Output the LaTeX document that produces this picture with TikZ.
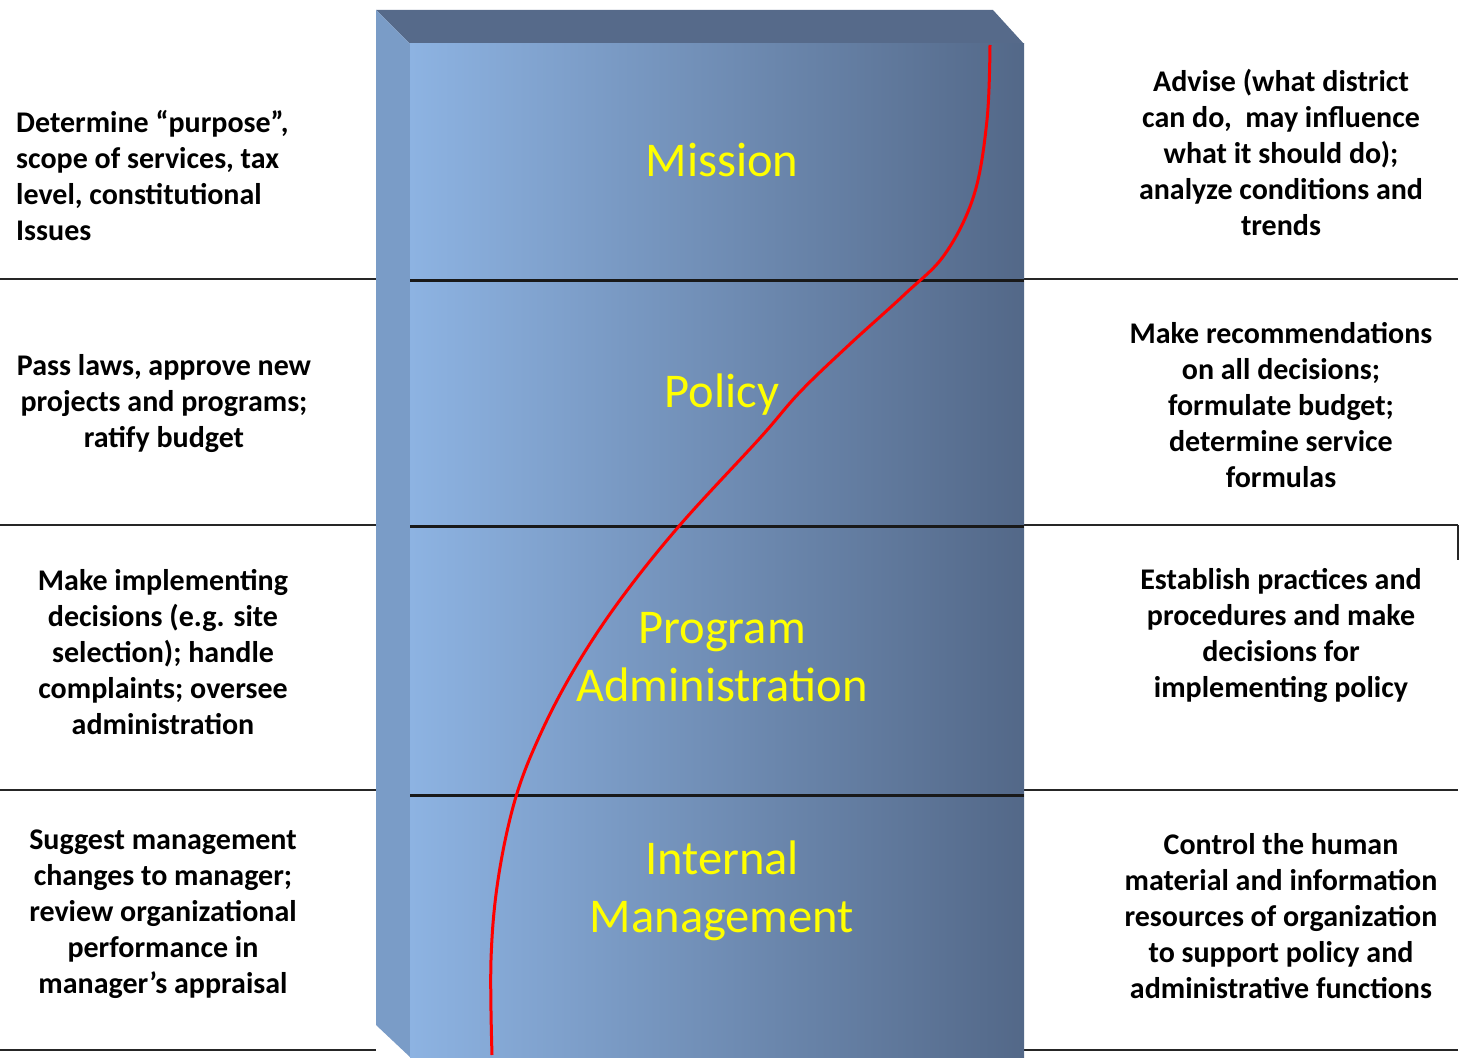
\documentclass[tikz,border=0pt]{standalone}
\usepackage{fontspec}
\setmainfont{Carlito}
\usepackage{tikz}
\definecolor{colLight}{RGB}{141,179,226}
\definecolor{colMid}{RGB}{120,155,198}
\definecolor{colDark}{RGB}{83,104,136}
\definecolor{sideFace}{RGB}{122,156,199}
\definecolor{topFace}{RGB}{86,106,138}
\definecolor{lvlYellow}{RGB}{255,255,0}
\tikzset{
  sidetext/.style={align=center, inner sep=0pt, font=\fontsize{30}{36}\selectfont\bfseries},
  lvltext/.style={align=center, inner sep=0pt, text=lvlYellow, font=\fontsize{48.5}{58}\selectfont},
  divider/.style={line width=1.6pt, color=black!85},
  inner divider/.style={line width=3pt, color=black!90}
}

\begin{document}
\begin{tikzpicture}[x=1pt, y=-1pt]
		%%%%% START %%%%%
		\useasboundingbox (0, 0) rectangle (1460, 1059);
		
		% row lines outside the column
		\foreach \yy in {279, 525, 790, 1050} {
			\draw[divider] (0, \yy) -- (376, \yy);
			\draw[divider] (1024, \yy) -- (1458, \yy);
		}
		\draw[divider] (1458, 525) -- (1458, 560);
		
		% the column
		\fill[topFace] (376, 10) -- (993, 10) -- (1024, 44) -- (410, 44) -- cycle;
		\fill[sideFace] (376, 10) -- (410, 44) -- (410, 1057) -- (376, 1025) -- cycle;
		\shade[left color=colLight, middle color=colMid, right color=colDark] (410, 44) rectangle (1024, 1057);
		
		\foreach \yy in {281, 526, 795} {
			\draw[inner divider] (410, \yy) -- (1024, \yy);
		}
		
		% the curve
		\draw[red, line width=3pt] plot[smooth, tension=0.6] coordinates {(990, 45) (987, 120) (974, 195) (945, 254) (905, 294) (850, 344) (800, 392) (760, 438) (680, 525) (620, 600) (575, 668) (540, 735) (515, 800) (498, 880) (491, 960) (492, 1055)};
		
		% levels
		\node[lvltext] (mission) at (722, 160) {Mission};
		\node[lvltext] (policy) at (722, 395) {Policy};
		\node[lvltext] (program) at (722, 657) {Program\\Administration};
		\node[lvltext] (internal) at (722, 891) {Internal\\Management};
		
		% left column
		\node[sidetext, align=left, anchor=west] (missionL) at (16, 176) {Determine “purpose”,\\scope of services, tax\\level, constitutional\\Issues};
		\node[sidetext] (policyL) at (164, 404) {Pass laws, approve new\\projects and programs;\\ratify budget};
		\node[sidetext] (programL) at (163, 652) {Make implementing\\decisions (e.g. site\\selection); handle\\complaints; oversee\\administration};
		\node[sidetext] (internalL) at (163, 914) {Suggest management\\changes to manager;\\review organizational\\performance in\\manager’s appraisal};
		
		% right column
		\node[sidetext] (missionR) at (1281, 152) {Advise (what district\\can do,~ may influence\\what it should do);\\analyze conditions and\\trends};
		\node[sidetext] (policyR) at (1281, 405) {Make recommendations\\on all decisions;\\formulate budget;\\determine service\\formulas};
		\node[sidetext] (programR) at (1281, 635) {Establish practices and\\procedures and make\\decisions for\\implementing policy};
		\node[sidetext] (internalR) at (1281, 916) {Control the human\\material and information\\resources of organization\\to support policy and\\administrative functions};
		
		%%%%% END %%%%%
\end{tikzpicture}
\end{document}
